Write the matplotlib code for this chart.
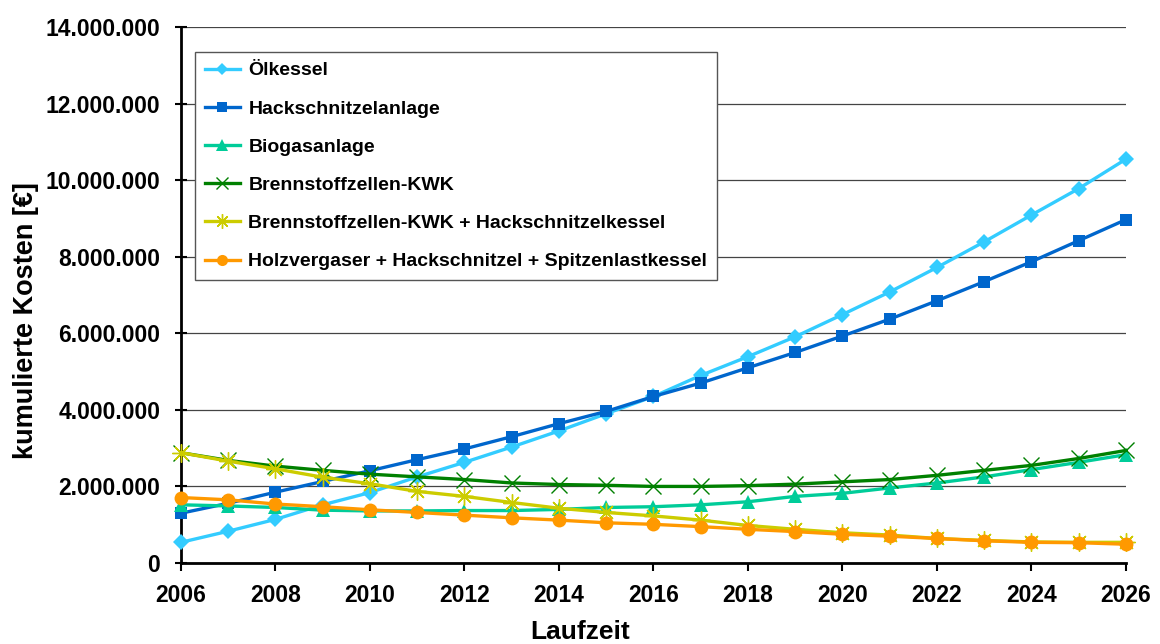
import matplotlib
matplotlib.use("Agg")
import matplotlib.pyplot as plt
from matplotlib.ticker import FuncFormatter, MultipleLocator

plt.rcParams['font.family'] = ['Liberation Sans', 'DejaVu Sans']

years = list(range(2006, 2027))

oelkessel = [0.54, 0.83, 1.14, 1.52, 1.84, 2.25, 2.63, 3.03, 3.45, 3.90, 4.35,
             4.90, 5.39, 5.91, 6.49, 7.08, 7.72, 8.39, 9.09, 9.78, 10.55]
hackschnitzel = [1.30, 1.56, 1.85, 2.13, 2.41, 2.70, 2.98, 3.30, 3.64, 3.96, 4.35,
                 4.70, 5.10, 5.50, 5.93, 6.37, 6.85, 7.35, 7.87, 8.42, 8.97]
biogas = [1.52, 1.49, 1.45, 1.38, 1.36, 1.36, 1.37, 1.37, 1.40, 1.45, 1.47,
          1.52, 1.60, 1.74, 1.82, 1.96, 2.09, 2.25, 2.44, 2.63, 2.83]
bz_kwk = [2.88, 2.68, 2.53, 2.42, 2.32, 2.25, 2.18, 2.09, 2.05, 2.03, 2.00,
          2.00, 2.02, 2.06, 2.12, 2.18, 2.29, 2.42, 2.55, 2.73, 2.94]
bz_hack = [2.88, 2.66, 2.46, 2.24, 2.07, 1.87, 1.74, 1.58, 1.43, 1.32, 1.23,
           1.12, 0.98, 0.88, 0.79, 0.73, 0.64, 0.59, 0.55, 0.54, 0.54]
holzvergaser = [1.71, 1.65, 1.54, 1.47, 1.39, 1.32, 1.25, 1.18, 1.12, 1.05, 1.01,
                0.95, 0.88, 0.82, 0.75, 0.70, 0.64, 0.58, 0.54, 0.53, 0.49]

labels = ["Ölkessel", "Hackschnitzelanlage", "Biogasanlage", "Brennstoffzellen-KWK",
          "Brennstoffzellen-KWK + Hackschnitzelkessel",
          "Holzvergaser + Hackschnitzel + Spitzenlastkessel"]
series = [oelkessel, hackschnitzel, biogas, bz_kwk, bz_hack, holzvergaser]
colors = ["#33CCFF", "#0066CC", "#00CC99", "#008000", "#CCCC00", "#FF9900"]
markers = ["D", "s", "^", "x", (8, 2, 0), "o"]
msizes = [8, 9, 10, 11, 13, 10]

fig = plt.figure(figsize=(11.6, 6.44), dpi=100)
ax = fig.add_axes([181/1160, 1 - 563/644, (1126 - 181)/1160, (563 - 27)/644])

for vals, lab, col, mk, ms in zip(series, labels, colors, markers, msizes):
    y = [v * 1e6 for v in vals]
    if mk == "x" or isinstance(mk, tuple):
        ax.plot(years, y, color=col, lw=2.4, marker=mk, ms=ms, mew=1.0,
                mec=col, mfc=col, label=lab, clip_on=False, zorder=3)
    else:
        ax.plot(years, y, color=col, lw=2.4, marker=mk, ms=ms, mew=0,
                mfc=col, label=lab, clip_on=False, zorder=3)

ax.set_xlim(2006, 2026)
ax.set_ylim(0, 14e6)
ax.xaxis.set_major_locator(MultipleLocator(2))
ax.yaxis.set_major_locator(MultipleLocator(2e6))
ax.yaxis.set_major_formatter(FuncFormatter(lambda v, p: f"{v:,.0f}".replace(",", ".")))

ax.grid(axis="y", color="#444444", lw=0.9)
ax.set_axisbelow(True)
for s in ("top", "right"):
    ax.spines[s].set_visible(False)
for s in ("left", "bottom"):
    ax.spines[s].set_linewidth(2.0)
    ax.spines[s].set_color("black")

ax.tick_params(axis="y", direction="inout", length=9, width=1.5, pad=10.5,
               labelsize=16.5)
ax.tick_params(axis="x", direction="out", length=6, width=1.5, pad=9,
               labelsize=16.5)
for t in ax.get_xticklabels() + ax.get_yticklabels():
    t.set_fontweight("bold")

fig.text(580/1160, 1 - 632/644, "Laufzeit", ha="center", va="center",
         fontsize=19, fontweight="bold")
fig.text(26/1160, 1 - 321/644, "kumulierte Kosten [€]", ha="center", va="center",
         rotation=90, fontsize=19.5, fontweight="bold")

handles, labs = ax.get_legend_handles_labels()
leg = ax.legend(handles, labs, loc="upper left",
                bbox_to_anchor=(195/1160, 1 - 52/644), bbox_transform=fig.transFigure,
                prop={"weight": "bold", "size": 14},
                frameon=True, fancybox=False, edgecolor="#555555",
                framealpha=1, borderpad=0.5, labelspacing=1.06,
                handlelength=1.8, handletextpad=0.45, borderaxespad=0,
                markerscale=0.8)
leg.get_frame().set_linewidth(1.0)

fig.savefig("out.png", dpi=100)
